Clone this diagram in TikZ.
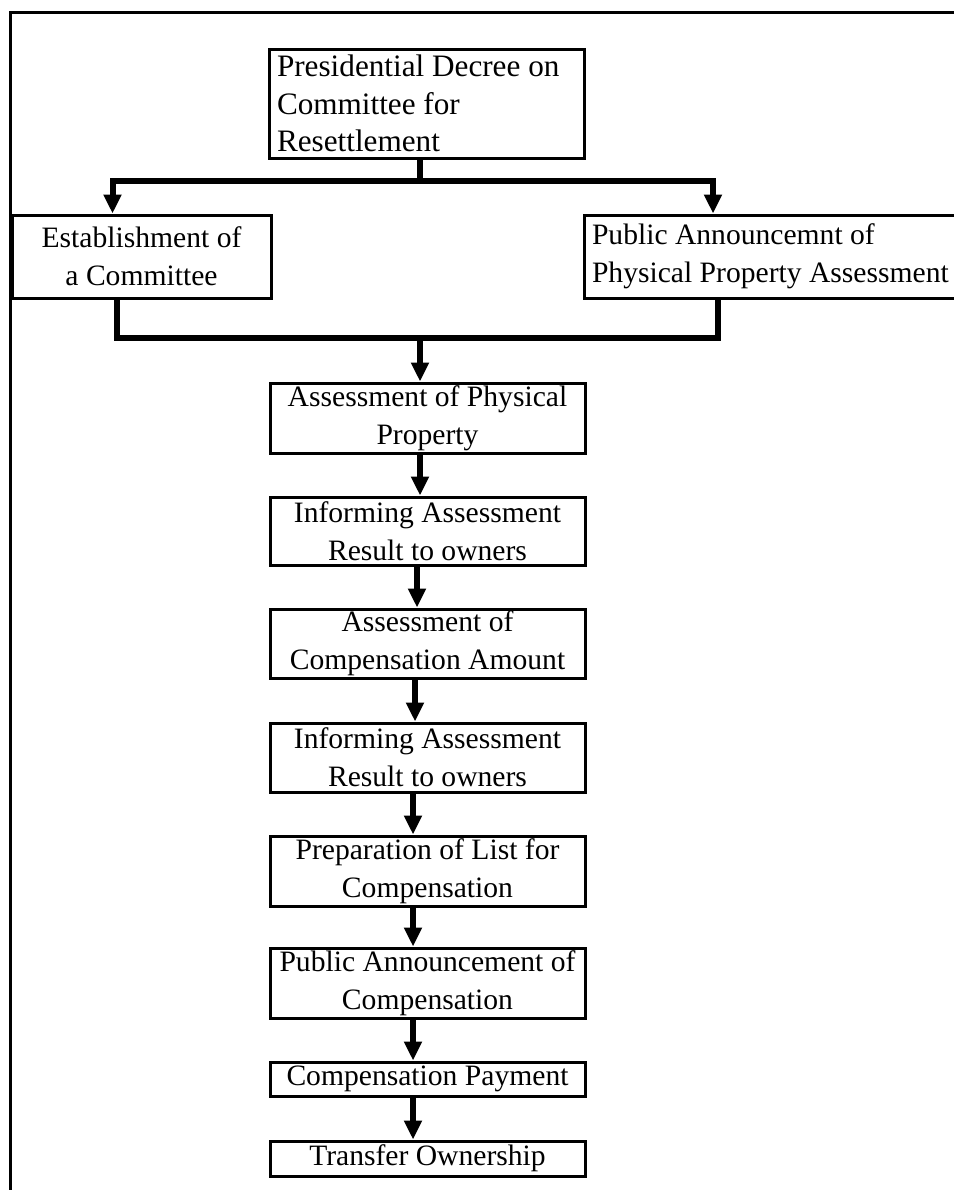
\documentclass[tikz,border=0pt]{standalone}
\usepackage{fontspec}
\setmainfont{Liberation Serif}
\usetikzlibrary{arrows.meta}

\tikzset{
  stepbox/.style={draw, line width=1.5pt, minimum width=157.5pt, inner sep=0pt, align=center,
    font=\fontsize{14.8pt}{18.8pt}\selectfont},
  leftbox/.style={stepbox, align=flush left, inner xsep=4pt},
  link/.style={line width=2.6pt},
  flow/.style={line width=3pt, -{Triangle[length=9.5pt,width=8.5pt]}},
}

\begin{document}
\begin{tikzpicture}[x=0.5pt, y=-0.5pt]
        \useasboundingbox (0,0) rectangle (954,1190);
        \clip (0,0) rectangle (954,1190);
        \draw[line width=1.5pt] (10.5,1200) -- (10.5,12.5) -- (960,12.5);
        \node[leftbox, text width=149.5pt, minimum height=54.5pt, font=\fontsize{15.6pt}{18.8pt}\selectfont] (decree) at (426.5,103.5) {Presidential Decree on\\Committee for\\Resettlement};
        \node[stepbox, minimum width=129.5pt, minimum height=41.5pt] (committee) at (141.5,256.5) {Establishment of\\a Committee};
        \node[leftbox, minimum width=190pt, text width=182pt, minimum height=41.5pt] (announce) at (774,256.5) {Public Announcemnt of\\Physical Property Assessment};
        \node[stepbox, minimum height=35pt] (assessprop) at (427.5,418) {Assessment of Physical\\Property};
        \node[stepbox, minimum height=34pt] (inform1) at (427.5,531) {Informing Assessment\\Result to owners};
        \node[stepbox, minimum height=34.5pt] (assesscomp) at (427.5,643.5) {Assessment of\\Compensation Amount};
        \node[stepbox, minimum height=34.5pt] (inform2) at (427.5,757.5) {Informing Assessment\\Result to owners};
        \node[stepbox, minimum height=35pt] (preplist) at (427.5,871) {Preparation of List for\\Compensation};
        \node[stepbox, minimum height=35pt] (announcecomp) at (427.5,983) {Public Announcement of\\Compensation};
        \node[stepbox, minimum height=17pt] (payment) at (427.5,1079) {Compensation Payment};
        \node[stepbox, minimum height=17.5pt] (transfer) at (427.5,1158.5) {Transfer Ownership};
        \coordinate (fork) at (420,181);
        \coordinate (join) at (420,338);
        \draw[link] ([xshift=-3.25pt]decree.south) -- (fork);
        \draw[flow] (fork) -| ([xshift=-14.5pt]committee.north);
        \draw[flow] (fork) -| ([xshift=-30.5pt]announce.north);
        \draw[link] ([xshift=-12.25pt]committee.south) |- (join) -| ([xshift=-28pt]announce.south);
        \draw[flow] (join) -- ([xshift=-3.75pt]assessprop.north);
        \draw[flow] ([xshift=-3.75pt]assessprop.south) -- ([xshift=-3.75pt]inform1.north);
        \draw[flow] ([xshift=-5.25pt]inform1.south) -- ([xshift=-5.25pt]assesscomp.north);
        \draw[flow] ([xshift=-6.25pt]assesscomp.south) -- ([xshift=-6.25pt]inform2.north);
        \draw[flow] ([xshift=-7.25pt]inform2.south) -- ([xshift=-7.25pt]preplist.north);
        \draw[flow] ([xshift=-7.25pt]preplist.south) -- ([xshift=-7.25pt]announcecomp.north);
        \draw[flow] ([xshift=-7.25pt]announcecomp.south) -- ([xshift=-7.25pt]payment.north);
        \draw[flow] ([xshift=-7.25pt]payment.south) -- ([xshift=-7.25pt]transfer.north);
\end{tikzpicture}
\end{document}
